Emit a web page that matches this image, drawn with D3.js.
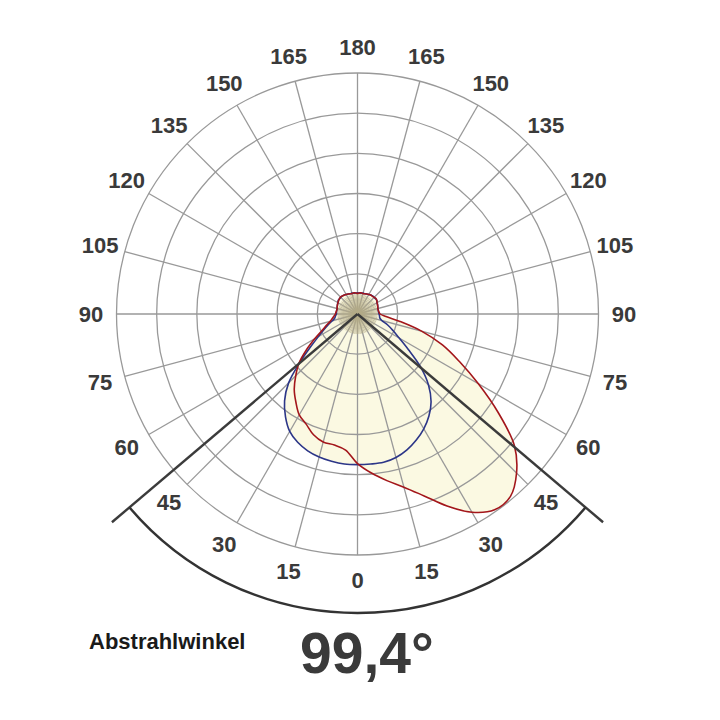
<!DOCTYPE html>
<html><head><meta charset="utf-8">
<script src="https://cdn.jsdelivr.net/npm/d3@7"></script>
<style>body{margin:0;background:#fff}</style>
</head><body>
<svg id="c" width="720" height="720"></svg>
<script>
// Gamma angles (deg, 0 = straight down, negative = left half, positive = right half)
const angles = [-180,-175,-170,-165,-160,-155,-150,-145,-140,-135,-130,-125,-120,-115,-110,-105,-100,-95,-90,-85,-80,-75,-70,-65,-60,-55,-50,-45,-40,-35,-30,-25,-20,-15,-10,-5,0,5,10,15,20,25,30,35,40,45,50,55,60,65,70,75,80,85,90,95,100,105,110,115,120,125,130,135,140,145,150,155,160,165,170,175,180];
// Plane C0-C180 (blue)
const planeBlue = [21,21,21,21.5,21.5,22,22.5,23,23.5,23.5,23.5,23.5,22.5,22,21.5,21,21,21,21,22,23,26,31,37,45,57,75,97,113,125,135,141,145,147.5,149,150,150,150,150,148,144,138.5,132,124,114,100,82,62,48,39,32,25,22.5,22,21.5,21,21,21,21.5,22,22.5,23.5,23.5,23.5,23.5,23,22.5,22,21.5,21.5,21,21,21];
// Plane C90-C270 (red)
const planeRed = [20.5,21,21.5,21,21.5,22,22.5,23,23.5,24,23.5,23,22.5,22,21.5,21,21,21.5,22,23.5,25.5,28,33,39,49,62,76,87,98,107,116,121,128,132,132.5,136,149,159,168.5,178.5,192.5,211,228,238,237,224,204,171,139,112,90,66,43,28.5,22.5,21.5,21,21,21.5,22,22.5,23.5,24,23.5,23,23,22.5,22,21.5,21,21.5,21,20.5];
const ringValues = [40,80,120,160,200,240];
const spokeAngles = [0,15,30,45,60,75,90,105,120,135,150,165,180,195,210,225,240,255,270,285,300,315,330,345];
const labelAngles = [-165,-150,-135,-120,-105,-90,-75,-60,-45,-30,-15,0,15,30,45,60,75,90,105,120,135,150,165,180];
const beamAngle = 99.4;
const beamText = "99,4°";
const titleText = "Abstrahlwinkel";

const svg = d3.select("#c");
const cx = 357.5, cy = 314;
const r = d3.scaleLinear().domain([0, 240]).range([0, 241]);
const rad = d => d * Math.PI / 180;
const radialAngle = d => rad(180 - d);  // d3 radial: clockwise from 12 o'clock
const g = svg.append("g").attr("transform", `translate(${cx},${cy})`);

const series = [
  {vals: planeBlue, color: "#2c3688"},
  {vals: planeRed, color: "#a3161b"}
];
const line = d3.lineRadial().curve(d3.curveCatmullRomClosed.alpha(0.5));
const pts = vals => angles.slice(0, -1).map((a, i) => [radialAngle(a), r(vals[i])]);

// fills
series.forEach(s => {
  g.append("path").attr("d", line(pts(s.vals))).attr("fill", "#fbf9e2").attr("stroke", "none");
});

// grid rings
g.selectAll("circle.ring").data(ringValues).join("circle")
  .attr("r", d => r(d)).attr("fill", "none").attr("stroke", "#999").attr("stroke-width", 1.3);
// spokes
g.selectAll("line.spoke").data(spokeAngles).join("line")
  .attr("x1", 0).attr("y1", 0)
  .attr("x2", d => r(240) * Math.sin(rad(d)))
  .attr("y2", d => r(240) * Math.cos(rad(d)))
  .attr("stroke", "#999").attr("stroke-width", 1.3);

// fine fan near the centre
const fan = d3.range(0, 360, 4);
g.selectAll("line.fan").data(fan).join("line")
  .attr("x1", 0).attr("y1", 0)
  .attr("x2", d => r(20) * Math.sin(rad(d)))
  .attr("y2", d => r(20) * Math.cos(rad(d)))
  .attr("stroke", "#b3ab86").attr("stroke-width", 0.7);

// curves
series.forEach(s => {
  g.append("path").attr("d", line(pts(s.vals))).attr("fill", "none")
    .attr("stroke", s.color).attr("stroke-width", 1.6).attr("stroke-linejoin", "round");
});

// beam angle lines and arc
const half = beamAngle / 2;
[-half, half].forEach(a => {
  g.append("line").attr("x1", 0).attr("y1", 0)
    .attr("x2", 322 * Math.sin(rad(a))).attr("y2", 322 * Math.cos(rad(a)))
    .attr("stroke", "#3b3b3b").attr("stroke-width", 2.4);
});
const arc = d3.arc().innerRadius(299).outerRadius(299)
  .startAngle(radialAngle(half)).endAngle(radialAngle(-half));
g.append("path").attr("d", arc()).attr("fill", "none").attr("stroke", "#333").attr("stroke-width", 2.4);

// angle labels
g.selectAll("text.lab").data(labelAngles).join("text")
  .attr("x", d => 266.5 * Math.sin(rad(d)))
  .attr("y", d => 266.5 * Math.cos(rad(d)))
  .attr("text-anchor", "middle").attr("dominant-baseline", "central")
  .attr("font-family", "Liberation Sans, Arial, sans-serif").attr("font-weight", "bold")
  .attr("font-size", 22).attr("fill", "#3a3a3a")
  .text(d => Math.abs(d));

// bottom texts
svg.append("text").attr("x", 89).attr("y", 649)
  .attr("font-family", "Liberation Sans, Arial, sans-serif").attr("font-weight", "bold")
  .attr("font-size", 22).attr("fill", "#1a1a1a").text(titleText);
svg.append("text").attr("x", 300).attr("y", 673)
  .attr("font-family", "Liberation Sans, Arial, sans-serif").attr("font-weight", "bold")
  .attr("font-size", 57).attr("fill", "#3a3a3a").text(beamText);
</script>
</body></html>
